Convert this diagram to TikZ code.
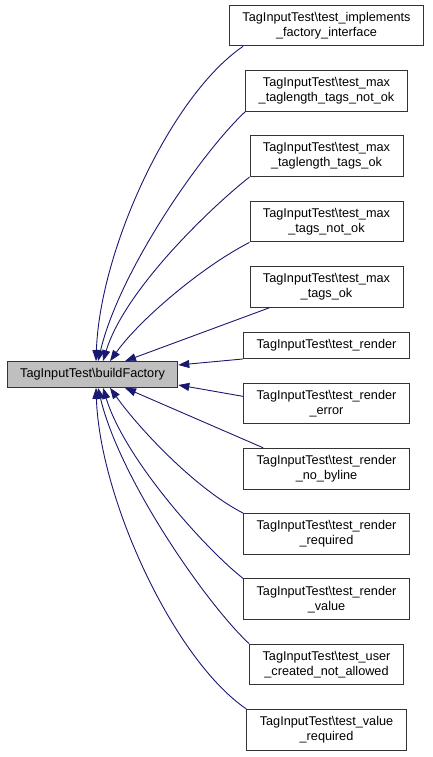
\documentclass[tikz,border=0pt]{standalone}
\usepackage{fontspec}
\setmainfont{Liberation Sans}
\usetikzlibrary{positioning,arrows.meta}
\definecolor{edgeblue}{RGB}{25,25,112}
\definecolor{grey75}{RGB}{191,191,191}

\begin{document}
\begin{tikzpicture}[x=1pt, y=-1pt, node distance=23.6pt,
    every node/.style = {shape=rectangle, draw=black!80, line width=0.9pt,
      align=center, inner xsep=13pt, inner ysep=7pt,
      font=\fontsize{12.7}{15}\selectfont},
    caller/.style = {fill=white},
    callee/.style = {fill=grey75},
    edge/.style = {draw=edgeblue, line width=0.9pt,
      -{Triangle[length=11pt,width=8pt]}}]
  \useasboundingbox (0,0) rectangle (432,757);

  \node[callee] (build) at (92.5,374.5) {TagInputTest\textbackslash buildFactory};

  % callers, one column
  \node[caller] (impl) at (326.5,25.5) {TagInputTest\textbackslash test\_implements\\\_factory\_interface};
  \node[caller, below=of impl] (lenno) {TagInputTest\textbackslash test\_max\\\_taglength\_tags\_not\_ok};
  \node[caller, below=of lenno] (lenok) {TagInputTest\textbackslash test\_max\\\_taglength\_tags\_ok};
  \node[caller, below=of lenok] (tagsno) {TagInputTest\textbackslash test\_max\\\_tags\_not\_ok};
  \node[caller, below=of tagsno] (tagsok) {TagInputTest\textbackslash test\_max\\\_tags\_ok};
  \node[caller, below=24.5pt of tagsok] (render) {TagInputTest\textbackslash test\_render};
  \node[caller, below=of render] (error) {TagInputTest\textbackslash test\_render\\\_error};
  \node[caller, below=of error] (byline) {TagInputTest\textbackslash test\_render\\\_no\_byline};
  \node[caller, below=of byline] (required) {TagInputTest\textbackslash test\_render\\\_required};
  \node[caller, below=of required] (value) {TagInputTest\textbackslash test\_render\\\_value};
  \node[caller, below=of value] (user) {TagInputTest\textbackslash test\_user\\\_created\_not\_allowed};
  \node[caller, below=of user] (valreq) {TagInputTest\textbackslash test\_value\\\_required};

  % edges into buildFactory
  \draw[edge] ([xshift=14]impl.south west) .. controls +(-72,49) and +(4,-112) .. ([xshift=3.5]build.north);
  \draw[edge] (lenno.south west) .. controls +(-42,39) and +(22,-92) .. ([xshift=5.5]build.north);
  \draw[edge] (lenok.south west) .. controls +(-37,29) and +(22,-72) .. ([xshift=10.5]build.north);
  \draw[edge] (tagsno.south west) .. controls +(-47,24) and +(30,-42) .. ([xshift=17.5]build.north);
  \draw[edge] ([xshift=20]tagsok.south west) -- ([xshift=32.5]build.north);
  \draw[edge] (render.south west) -- ([yshift=9.5]build.east);
  \draw[edge] ([yshift=7]error.west) -- ([yshift=-10.5]build.east);
  \draw[edge] ([xshift=20]byline.north west) -- ([xshift=32.5]build.south);
  \draw[edge] (required.north west) .. controls +(-47,-24) and +(30,42) .. ([xshift=17.5]build.south);
  \draw[edge] (value.north west) .. controls +(-37,-29) and +(22,72) .. ([xshift=10.5]build.south);
  \draw[edge] (user.north west) .. controls +(-42,-39) and +(22,92) .. ([xshift=5.5]build.south);
  \draw[edge] (valreq.north west) .. controls +(-72,-49) and +(4,112) .. ([xshift=3.5]build.south);
\end{tikzpicture}
\end{document}
